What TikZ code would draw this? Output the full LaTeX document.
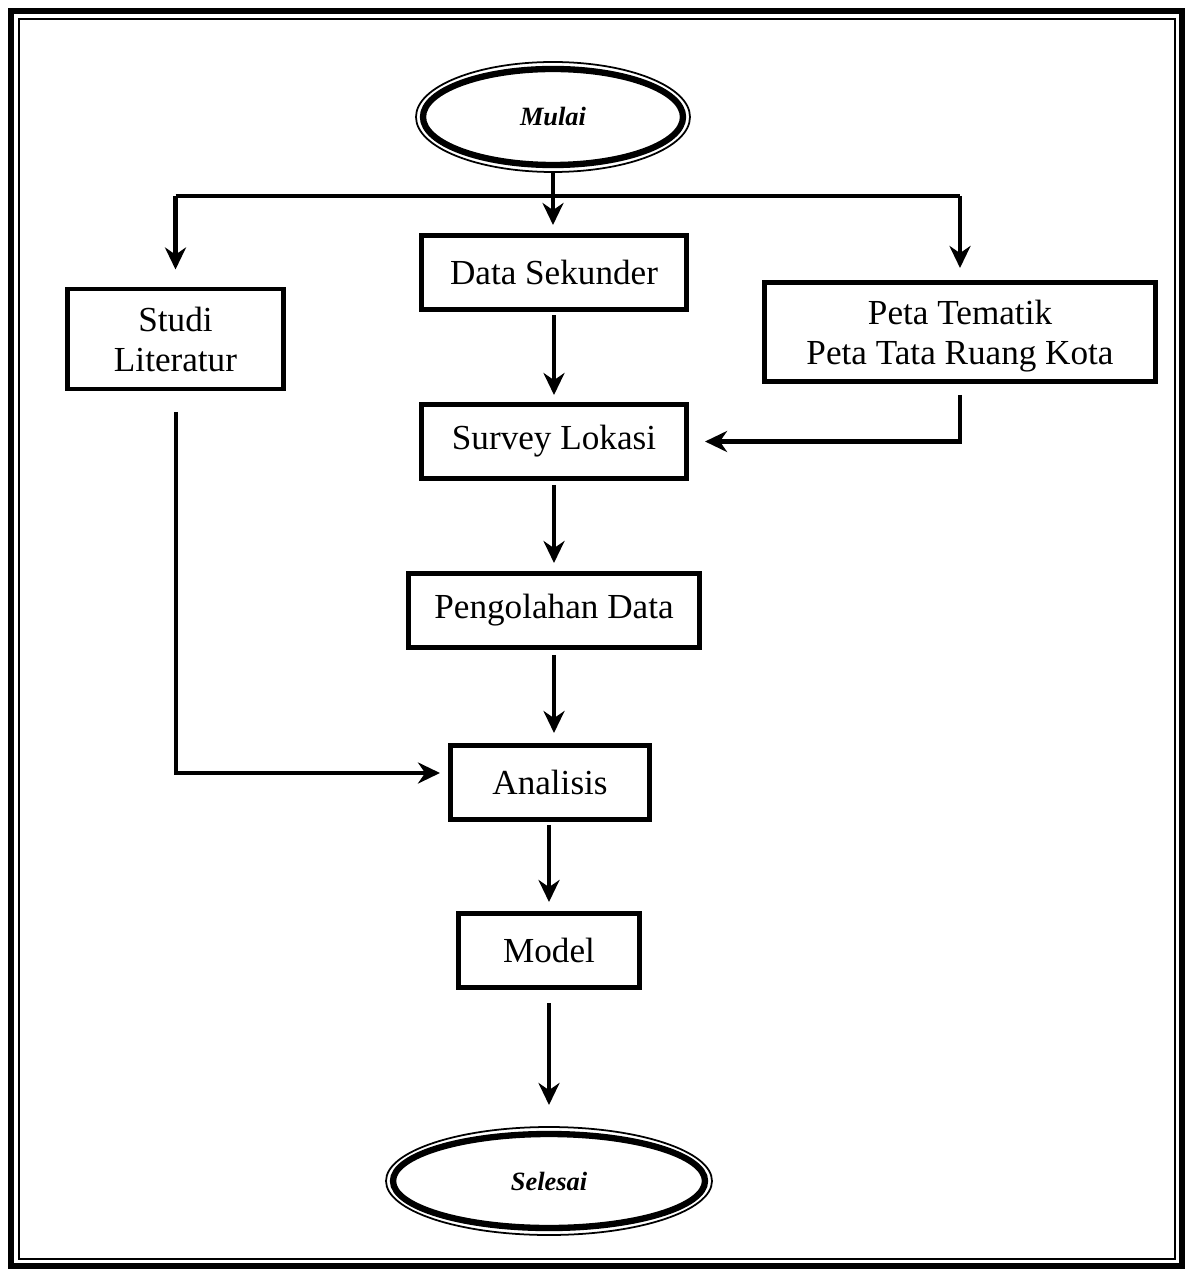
\documentclass[tikz,border=0pt]{standalone}
\usepackage{fontspec}
\setmainfont{Liberation Serif}
\usetikzlibrary{shapes.geometric,arrows.meta}

\tikzset{
  box/.style={draw, line width=1.4pt, inner sep=0pt, minimum height=0.74cm, align=center, font=\fontsize{10}{11.4}\selectfont},
  term/.style={inner sep=0pt, font=\fontsize{7.5}{9}\selectfont\itshape\bfseries},
  arr/.style={line width=1.2pt, -{Stealth[length=2.2mm,width=2.1mm]}},
  link/.style={line width=1.2pt}
}

\begin{document}
\begin{tikzpicture}[x=0.01cm, y=-0.01cm]
	\useasboundingbox (0,0) rectangle (1186,1270);
	% frame
	\draw [line width=1.6pt] (11,11) rectangle (1182,1266);
	\draw [line width=0.5pt] (19,19) rectangle (1175,1259);

	\node [term] at (553, 117) (mulai) {Mulai};
	\node [box, minimum width=2.65cm] at (554, 272.5) (datasek) {Data Sekunder};
	\node [box, minimum width=2.16cm, minimum height=1.0cm, text depth=0pt] at (175.5, 339) (studi) {Studi\\Literatur};
	\node [box, minimum width=3.91cm, minimum height=0.99cm, text depth=0pt] at (960, 332) (peta) {Peta Tematik\\Peta Tata Ruang Kota};
	\node [box, minimum width=2.65cm] at (554, 441.5) (survey) {Survey Lokasi};
	\node [box, minimum width=2.91cm] at (554, 610.5) (olah) {Pengolahan Data};
	\node [box, minimum width=1.99cm] at (550, 782.5) (analisis) {Analisis};
	\node [box, minimum width=1.81cm] at (549, 950.5) (model) {Model};
	\node [term] at (549, 1181) (selesai) {Selesai};

	% terminal ellipses
	\draw [line width=0.5pt] (mulai.center) ellipse [x radius=137, y radius=55];
	\draw [line width=1.8pt] (mulai.center) ellipse [x radius=130, y radius=48];
	\draw [line width=0.5pt] (selesai.center) ellipse [x radius=163, y radius=54];
	\draw [line width=1.8pt] (selesai.center) ellipse [x radius=156, y radius=47];

	\coordinate (split) at (553, 196);
	\coordinate (pout) at (960, 395);
	\coordinate (sout) at (176, 412);
	\coordinate (ain) at (440, 773);
	\coordinate (sin) at (549, 1105);

	\draw [arr] (553, 172) -- (553, 225);
	\draw [link] (studi.north |- split) -- (peta.north |- split);
	\draw [arr] (studi.north |- split) -- ([yshift=0.17cm]studi.north);
	\draw [arr] (peta.north |- split) -- ([yshift=0.12cm]peta.north);
	\draw [arr, shorten <=1pt, shorten >=0.07cm] (datasek) -- (survey);
	\draw [arr] (pout) |- ([xshift=0.16cm]survey.east);
	\draw [arr] (sout) |- (ain);
	\draw [arr, shorten <=0.04cm, shorten >=0.08cm] (survey) -- (olah);
	\draw [arr, shorten <=0.05cm, shorten >=0.1cm] (olah.south) -- (olah.south |- analisis.north);
	\draw [arr, shorten <=0.03cm, shorten >=0.09cm] (analisis.south -| model.south) -- (model.north);
	\draw [arr, shorten <=0.13cm] (model.south) -- (sin);
\end{tikzpicture}
\end{document}
